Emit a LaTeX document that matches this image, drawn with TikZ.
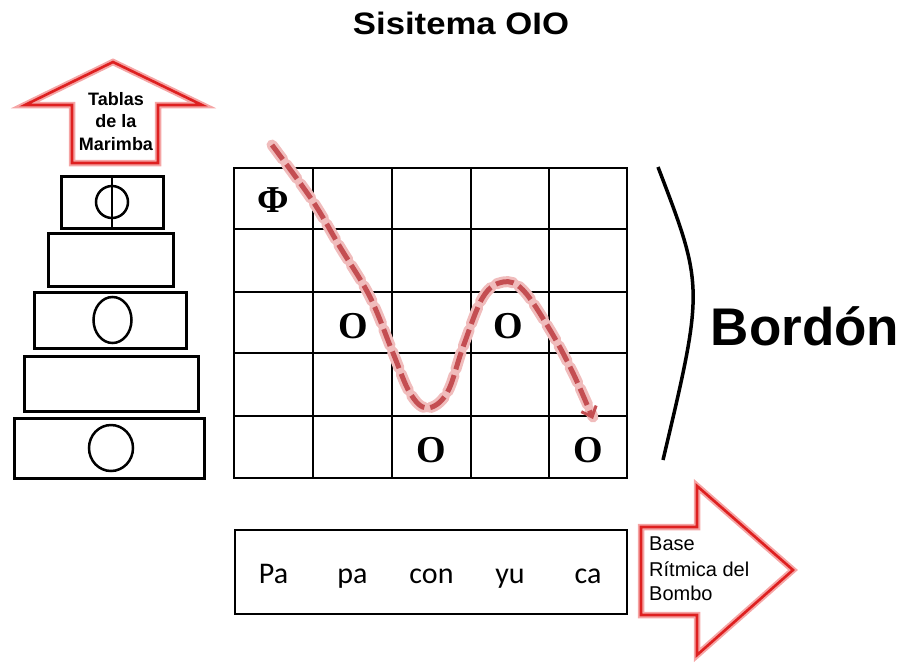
\documentclass[tikz,border=0pt]{standalone}
\usepackage{fontspec}
\setmainfont{Liberation Sans}
\newfontfamily\serifbf{Liberation Serif}
\newfontfamily\calib{Carlito}
\usetikzlibrary{arrows.meta}
\definecolor{arrred}{RGB}{222,32,32}
\definecolor{arrglow}{RGB}{245,165,165}
\definecolor{dashred}{RGB}{196,78,82}
\definecolor{dashglow}{RGB}{240,188,188}
\begin{document}
\begin{tikzpicture}[x=1pt,y=-1pt,
  bar/.style={draw=black,line width=3pt},
  gridouter/.style={draw=black,line width=2.2pt},
  gridinner/.style={draw=black,line width=1.3pt},
  note/.style={font=\serifbf\bfseries\fontsize{38}{38}\selectfont,inner sep=0pt},
  syl/.style={font=\calib\fontsize{30}{30}\selectfont,anchor=base},
  tabl/.style={font=\bfseries\fontsize{18}{18}\selectfont,anchor=base,inner sep=0pt},
  basetxt/.style={font=\fontsize{20}{20}\selectfont,anchor=base west,inner sep=0pt},
  bigarrglow/.style={draw=arrglow,line width=6.5pt,fill=white,line join=miter},
  bigarr/.style={draw=arrred,line width=2.6pt,line join=miter}
]
\useasboundingbox (0,0) rectangle (905,662);

% title
\node[font=\bfseries\fontsize{31}{31}\selectfont,anchor=base] (title) at (461,34) {\scalebox{1.12}[1]{Sisitema OIO}};

% up arrow
\draw[bigarrglow] (113,62) -- (202,105) -- (158,105) -- (158,163) -- (72,163) -- (72,105) -- (25,105) -- cycle;
\draw[bigarr] (113,62) -- (202,105) -- (158,105) -- (158,163) -- (72,163) -- (72,105) -- (25,105) -- cycle;
\node[tabl] (t1) at (116,105) {Tablas};
\node[tabl] (t2) at (116,127) {de la};
\node[tabl] (t3) at (116,150) {Marimba};

% marimba bars
\draw[bar] (61,176) rectangle (163,228);
\draw[line width=2.5pt] (112,202) ellipse [x radius=16,y radius=16];
\draw[line width=2.5pt] (112,177) -- (112,227);
\draw[bar] (48,233) rectangle (173,286);
\draw[bar] (34,292) rectangle (186,348);
\draw[line width=2.5pt] (112.5,320) ellipse [x radius=19,y radius=23];
\draw[bar] (24,356) rectangle (198,411);
\draw[bar] (14,418) rectangle (204,478);
\draw[line width=2.5pt] (111,448) ellipse [x radius=22,y radius=23];

% grid
\foreach \x in {313,392,471,549} \draw[gridinner] (\x,168) -- (\x,478);
\foreach \y in {229,292,353,416} \draw[gridinner] (234,\y) -- (627,\y);
\draw[gridouter] (234,168) rectangle (627,478);

\node[font=\serifbf\bfseries\fontsize{38}{38}\selectfont,inner sep=0pt] (phi) at (273,200) {Φ};
\node[note] (o1) at (353,326) {O};
\node[note] (o2) at (508,326) {O};
\node[note] (o3) at (431,450) {O};
\node[note] (o4) at (588,450) {O};

% dashed curve
\draw[dashglow,line width=11pt,dash pattern=on 18pt off 6pt,line cap=round]
  plot[smooth,tension=0.6] coordinates {(272,145) (312,200) (340,247) (370,297) (393,353) (410,393) (427,408) (447,393) (463,347) (483,297) (503,282) (523,290) (550,330) (573,373) (593,417)};
\draw[dashred,line width=5pt,dash pattern=on 18pt off 6pt,-{Straight Barb[length=9pt,width=16pt,line width=3pt]}]
  plot[smooth,tension=0.6] coordinates {(272,145) (312,200) (340,247) (370,297) (393,353) (410,393) (427,408) (447,393) (463,347) (483,297) (503,282) (523,290) (550,330) (573,373) (593,419)};

% bordon
\draw[line width=3.5pt] (658,167) .. controls (704,287) .. (663,460);
\node[font=\bfseries\fontsize{53}{53}\selectfont,anchor=base] (bordon) at (805,345) {Bordón};

% bottom box
\draw[gridouter] (235,530) rectangle (627,614);
\node[syl] (s1) at (273.5,583) {Pa};
\node[syl] (s2) at (352.5,583) {pa};
\node[syl] (s3) at (431.5,583) {con};
\node[syl] (s4) at (510,583) {yu};
\node[syl] (s5) at (588,583) {ca};

% right arrow
\draw[bigarrglow] (641,527) -- (697,527) -- (697,486) -- (793,570) -- (697,655) -- (697,615) -- (641,615) -- cycle;
\draw[bigarr] (641,527) -- (697,527) -- (697,486) -- (793,570) -- (697,655) -- (697,615) -- (641,615) -- cycle;
\node[basetxt] (b1) at (649,550) {Base};
\node[basetxt] (b2) at (649,576) {Rítmica del};
\node[basetxt] (b3) at (649,600) {Bombo};
\end{tikzpicture}
\end{document}
